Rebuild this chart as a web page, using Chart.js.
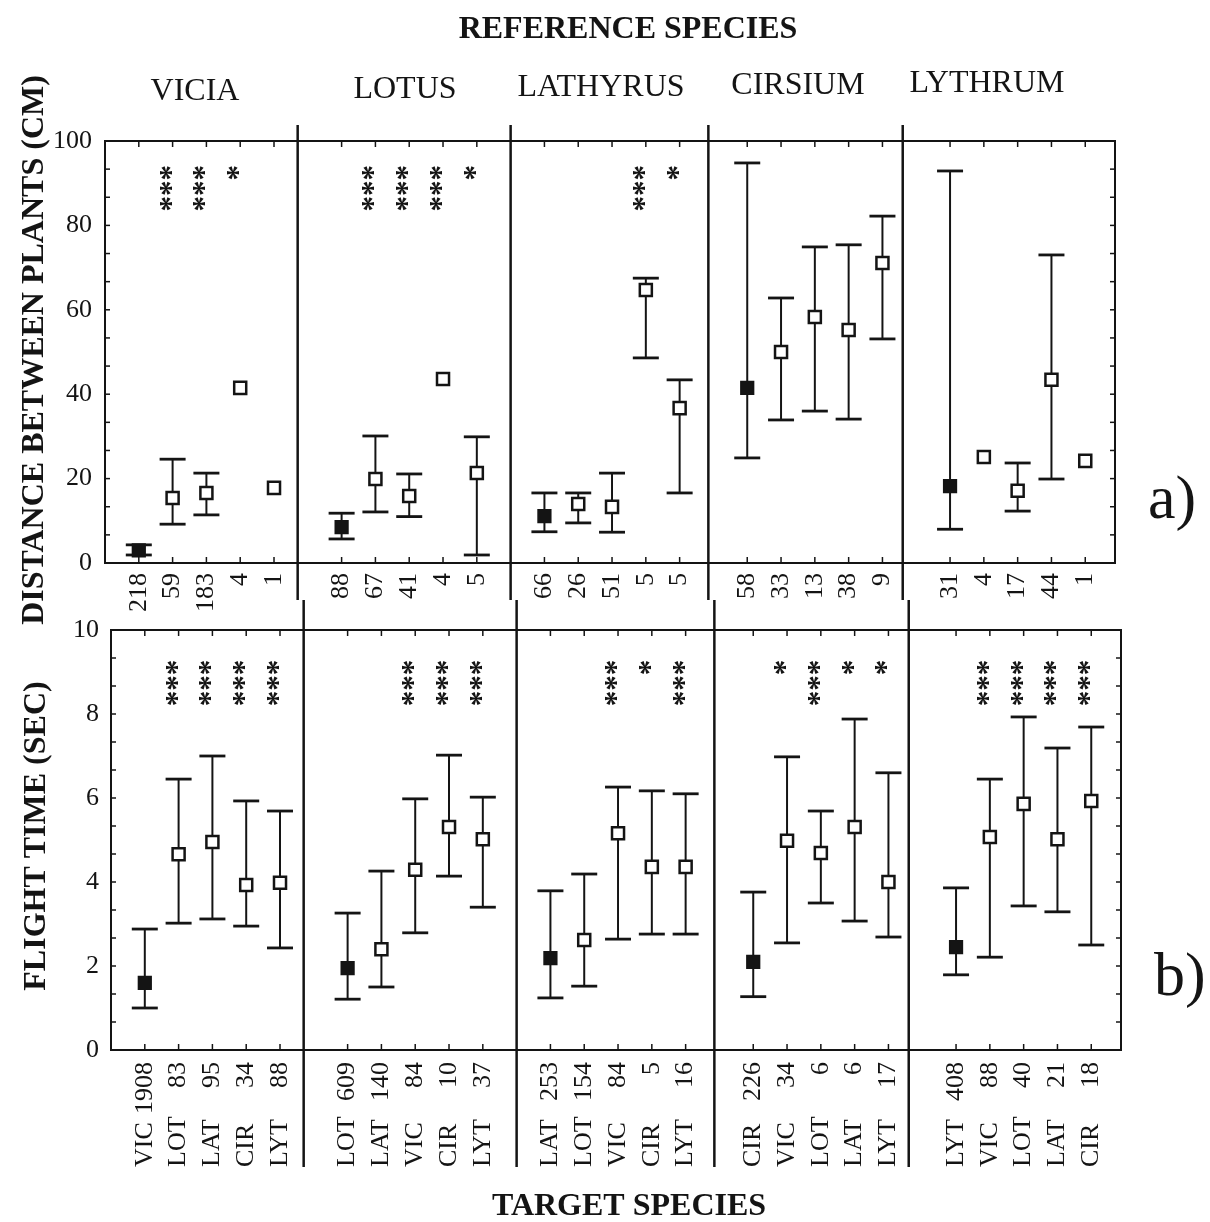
<!DOCTYPE html>
<html>
<head>
<meta charset="utf-8">
<script src="https://cdn.jsdelivr.net/npm/chart.js@4.4.1/dist/chart.umd.min.js"></script>
<style>
html,body{margin:0;padding:0;background:#fff;}
body{width:1210px;height:1222px;position:relative;overflow:hidden;}
canvas{position:absolute;left:0;}
#cA{top:0;}
#cB{top:590px;}
</style>
</head>
<body>
<canvas id="cA" width="1210" height="625"></canvas>
<canvas id="cB" width="1210" height="632"></canvas>
<script>
// ---------- DATA ----------
const referenceSpecies = ['VICIA', 'LOTUS', 'LATHYRUS', 'CIRSIUM', 'LYTHRUM'];

// a) distance between plants (cm)
const distMean = [
  [3.0, 15.4, 16.6, 41.5, 17.8],
  [8.5, 19.9, 15.9, 43.6, 21.3],
  [11.1, 14.0, 13.3, 64.7, 36.7],
  [41.5, 50.0, 58.3, 55.2, 71.1],
  [18.2, 25.1, 17.1, 43.4, 24.2]
];
const distLow = [
  [1.9, 9.2, 11.4, null, null],
  [5.7, 12.1, 11.0, null, 1.9],
  [7.4, 9.5, 7.3, 48.6, 16.6],
  [24.9, 33.9, 36.0, 34.1, 53.1],
  [8.0, null, 12.3, 19.9, null]
];
const distHigh = [
  [4.3, 24.6, 21.3, null, null],
  [11.8, 30.1, 21.1, null, 29.9],
  [16.6, 16.6, 21.3, 67.5, 43.4],
  [94.8, 62.8, 74.9, 75.4, 82.2],
  [92.9, null, 23.7, 73.0, null]
];
const distN = [
  [218, 59, 183, 4, 1],
  [88, 67, 41, 4, 5],
  [66, 26, 51, 5, 5],
  [58, 33, 13, 38, 9],
  [31, 4, 17, 44, 1]
];
const distSig = [
  ['', '***', '***', '*', ''],
  ['', '***', '***', '***', '*'],
  ['', '', '', '***', '*'],
  ['', '', '', '', ''],
  ['', '', '', '', '']
];

// b) flight time (sec)
const timeMean = [
  [1.6, 4.66, 4.95, 3.93, 3.98],
  [1.95, 2.4, 4.29, 5.31, 5.02],
  [2.19, 2.62, 5.16, 4.36, 4.36],
  [2.1, 4.98, 4.69, 5.31, 4.0],
  [2.45, 5.07, 5.86, 5.02, 5.93]
];
const timeLow = [
  [1.0, 3.02, 3.12, 2.95, 2.43],
  [1.21, 1.5, 2.79, 4.14, 3.4],
  [1.24, 1.52, 2.64, 2.76, 2.76],
  [1.27, 2.55, 3.5, 3.07, 2.69],
  [1.79, 2.21, 3.43, 3.29, 2.5]
];
const timeHigh = [
  [2.88, 6.45, 7.0, 5.93, 5.69],
  [3.26, 4.26, 5.98, 7.02, 6.02],
  [3.79, 4.19, 6.26, 6.17, 6.1],
  [3.76, 6.98, 5.69, 7.88, 6.6],
  [3.86, 6.45, 7.93, 7.19, 7.69]
];
const timeTarget = [
  ['VIC', 'LOT', 'LAT', 'CIR', 'LYT'],
  ['LOT', 'LAT', 'VIC', 'CIR', 'LYT'],
  ['LAT', 'LOT', 'VIC', 'CIR', 'LYT'],
  ['CIR', 'VIC', 'LOT', 'LAT', 'LYT'],
  ['LYT', 'VIC', 'LOT', 'LAT', 'CIR']
];
const timeN = [
  [1908, 83, 95, 34, 88],
  [609, 140, 84, 10, 37],
  [253, 154, 84, 5, 16],
  [226, 34, 6, 6, 17],
  [408, 88, 40, 21, 18]
];
const timeSig = [
  ['', '***', '***', '***', '***'],
  ['', '', '***', '***', '***'],
  ['', '', '***', '*', '***'],
  ['', '*', '***', '*', '*'],
  ['', '***', '***', '***', '***']
];

// ---------- LAYOUT / STYLE ----------
const INK = '#141414';
const FONT = "'Liberation Serif', 'Times New Roman', serif";
Chart.defaults.font.family = FONT;
Chart.defaults.color = INK;

const xOf = (g, i) => g * 6 + i + 1;
const xPositions = referenceSpecies.flatMap((_, g) => [0, 1, 2, 3, 4].map(i => xOf(g, i)));
const dividers = [5.7, 12, 17.85, 23.6];
const headerX = [195, 405, 601, 798, 987];
const headerY = [100, 98, 96, 94, 92];

function line(ctx, x1, y1, x2, y2) {
  ctx.beginPath(); ctx.moveTo(x1, y1); ctx.lineTo(x2, y2); ctx.stroke();
}

function makePanelPlugin(p) {
  return {
    id: 'panel_' + p.key,
    beforeDatasetsDraw(chart) {
      const { ctx, chartArea: a, scales: { x, y } } = chart;
      ctx.save();
      ctx.strokeStyle = INK;
      ctx.lineCap = 'butt';
      // frame
      ctx.lineWidth = 2;
      ctx.strokeRect(a.left, a.top, a.right - a.left, a.bottom - a.top);
      // group dividers
      ctx.lineWidth = 2.5;
      dividers.forEach(d => {
        const px = x.getPixelForValue(d);
        line(ctx, px, p.divTop, px, p.divBottom);
      });
      // inner tick marks
      ctx.lineWidth = 1.5;
      xPositions.forEach(v => {
        const px = x.getPixelForValue(v);
        line(ctx, px, a.top, px, a.top + 6);
        line(ctx, px, a.bottom, px, a.bottom - 6);
      });
      for (let k = 1; k < 15; k++) {
        const yy = a.top + (a.bottom - a.top) * k / 15;
        line(ctx, a.left, yy, a.left + 5, yy);
        line(ctx, a.right, yy, a.right - 5, yy);
      }
      // error bars
      p.mean.forEach((row, g) => row.forEach((m, i) => {
        const lo = p.low[g][i], hi = p.high[g][i];
        if (lo == null || hi == null) return;
        const px = x.getPixelForValue(xOf(g, i));
        const yl = y.getPixelForValue(lo), yh = y.getPixelForValue(hi);
        ctx.lineWidth = 2;
        line(ctx, px, yl, px, yh);
        ctx.lineWidth = 2.8;
        line(ctx, px - 13, yl, px + 13, yl);
        line(ctx, px - 13, yh, px + 13, yh);
      }));
      ctx.restore();
    },
    afterDraw(chart) {
      const { ctx, scales: { x, y } } = chart;
      ctx.save();
      ctx.fillStyle = INK;
      ctx.font = 'bold 31px ' + FONT;
      const sy = y.getPixelForValue(p.sigAt);
      p.sig.forEach((row, g) => row.forEach((s, i) => {
        if (!s) return;
        const px = x.getPixelForValue(xOf(g, i));
        ctx.save();
        ctx.translate(px, sy);
        ctx.rotate(-Math.PI / 2);
        ctx.textAlign = 'right';
        ctx.textBaseline = 'middle';
        ctx.fillText(s, 0, 0);
        ctx.restore();
      }));
      p.extra(ctx, chart);
      ctx.restore();
    }
  };
}

function makeChart(id, p) {
  const refData = p.mean.map((row, g) => ({ x: xOf(g, 0), y: row[0] }));
  const tgtData = p.mean.flatMap((row, g) => row.slice(1).map((v, k) => ({ x: xOf(g, k + 1), y: v })));
  const labels = p.tickLabels.flat().map(String);
  return new Chart(document.getElementById(id), {
    type: 'scatter',
    data: {
      datasets: [
        { label: 'Reference species', data: refData, pointStyle: 'rect', pointRadius: 9,
          backgroundColor: INK, borderColor: INK, borderWidth: 1.5 },
        { label: 'Target species', data: tgtData, pointStyle: 'rect', pointRadius: 8.5,
          backgroundColor: '#ffffff', borderColor: INK, borderWidth: 2.5 }
      ]
    },
    options: {
      responsive: false,
      animation: false,
      layout: { padding: p.padding },
      plugins: { legend: { display: false }, tooltip: { enabled: false } },
      scales: {
        x: {
          type: 'linear', min: 0, max: 29.88,
          afterBuildTicks: sc => { sc.ticks = xPositions.map(v => ({ value: v })); },
          afterFit: sc => { sc.height = p.xAxisHeight; },
          ticks: { autoSkip: false, minRotation: 90, maxRotation: 90, padding: p.xTickPad,
                   font: { size: 26 }, color: INK, callback: (v, i) => labels[i] },
          grid: { display: false, drawTicks: false },
          border: { display: false }
        },
        y: {
          min: 0, max: p.yMax,
          afterFit: sc => { sc.width = 105; },
          ticks: { stepSize: p.yStep, padding: p.yTickPad, font: { size: 26 }, color: INK },
          grid: { display: false, drawTicks: false },
          border: { display: false }
        }
      }
    },
    plugins: [makePanelPlugin(p)]
  });
}

function rotatedText(ctx, text, x, y, align) {
  ctx.save();
  ctx.translate(x, y);
  ctx.rotate(-Math.PI / 2);
  ctx.textAlign = align;
  ctx.fillText(text, 0, 0);
  ctx.restore();
}

// panel a
makeChart('cA', {
  key: 'a',
  mean: distMean, low: distLow, high: distHigh, sig: distSig, sigAt: 94.3,
  tickLabels: distN,
  yMax: 100, yStep: 20, yTickPad: 13, xTickPad: 10,
  padding: { top: 141, right: 95, left: 0, bottom: 0 },
  xAxisHeight: 62,
  divTop: 125, divBottom: 600,
  extra(ctx) {
    ctx.textBaseline = 'alphabetic';
    ctx.textAlign = 'center';
    ctx.font = 'bold 32px ' + FONT;
    ctx.fillText('REFERENCE SPECIES', 628, 38);
    ctx.font = '32px ' + FONT;
    referenceSpecies.forEach((s, g) => ctx.fillText(s, headerX[g], headerY[g]));
    ctx.font = 'bold 32px ' + FONT;
    rotatedText(ctx, 'DISTANCE BETWEEN PLANTS (CM)', 43, 350, 'center');
    ctx.font = '62px ' + FONT;
    ctx.textAlign = 'left';
    ctx.fillText('a)', 1148, 518);
  }
});

// panel b
makeChart('cB', {
  key: 'b',
  mean: timeMean, low: timeLow, high: timeHigh, sig: timeSig, sigAt: 9.29,
  tickLabels: timeN,
  yMax: 10, yStep: 2, yTickPad: 12, xTickPad: 12,
  padding: { top: 40, right: 89, left: 6, bottom: 0 },
  xAxisHeight: 172,
  divTop: 10, divBottom: 577,
  extra(ctx, chart) {
    const x = chart.scales.x;
    ctx.font = '26px ' + FONT;
    ctx.textBaseline = 'middle';
    timeTarget.forEach((row, g) => row.forEach((name, i) => {
      rotatedText(ctx, name, x.getPixelForValue(xOf(g, i)), 577, 'left');
    }));
    ctx.textBaseline = 'alphabetic';
    ctx.font = 'bold 32px ' + FONT;
    rotatedText(ctx, 'FLIGHT TIME (SEC)', 45, 246, 'center');
    ctx.textAlign = 'center';
    ctx.fillText('TARGET SPECIES', 629, 625);
    ctx.font = '62px ' + FONT;
    ctx.textAlign = 'left';
    ctx.fillText('b)', 1154, 405);
  }
});
</script>
</body>
</html>
